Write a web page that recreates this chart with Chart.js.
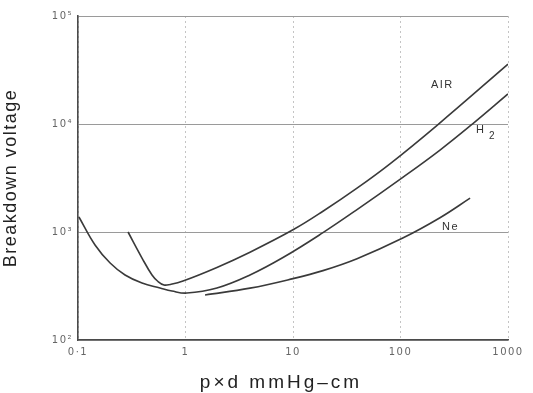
<!DOCTYPE html>
<html>
<head>
<meta charset="utf-8">
<script src="https://cdn.jsdelivr.net/npm/chart.js@4"></script>
<style>
  body { margin: 0; background: #fff; }
  #wrap { width: 533px; height: 393px; }
</style>
</head>
<body>
<div id="wrap"><canvas id="paschen"></canvas></div>
<script>
// values (pd in mmHg-cm, breakdown voltage in V)
var airX = [0.292, 0.394, 0.488, 0.555, 0.631, 0.718, 0.948, 1.96, 3.98, 10.2, 19.0, 39.4, 79.8, 219, 1000];
var airY = [1000, 574, 400, 348, 323, 327, 352, 470, 650, 1059, 1556, 2546, 4276, 9727, 35800];

var h2X = [0.102, 0.144, 0.199, 0.274, 0.394, 0.579, 0.748, 1.03, 1.96, 3.98, 8.07, 19.0, 39.4, 105, 233, 472, 1000];
var h2Y = [1377, 758, 516, 400, 337, 303, 284, 272, 303, 400, 580, 986, 1611, 3206, 5741, 10100, 19000];

var neX = [1.52, 3.98, 10, 19.0, 39.4, 105, 233, 444];
var neY = [261, 302, 370, 439, 566, 879, 1355, 2056];

var xTicks = [0.1, 1, 10, 100, 1000];
var xTickLabels = ["0·1", "1", "10", "100", "1000"];
var yTicks = [100, 1000, 10000, 100000];
var yTickLabels = ["10²", "10³", "10⁴", "10⁵"];

var curveNames = ["AIR", "H2", "Ne"];
var nameX = [243, 611, 308];
var nameY = [23000, 8430, 1110];

var xTitle = "p×d mmHg–cm";

function points(xs, ys) {
  var pts = [];
  for (var i = 0; i < xs.length; i++) pts.push({x: xs[i], y: ys[i]});
  return pts;
}

function curve(xs, ys) {
  return {
    data: points(xs, ys),
    showLine: true,
    borderColor: "#3a3a3a",
    borderWidth: 1.6,
    pointRadius: 0,
    tension: 0.4,
    fill: false
  };
}

var spacing = {
  id: "spacing",
  beforeDraw: function(chart) {
    chart.ctx.letterSpacing = "1.5px";
  }
};

var extraText = {
  id: "extraText",
  afterDraw: function(chart) {
    var ctx = chart.ctx;
    var xs = chart.scales.x, ys = chart.scales.y;
    ctx.save();
    ctx.fillStyle = "#333";
    ctx.textAlign = "left";
    ctx.textBaseline = "middle";
    ctx.letterSpacing = "1.5px";
    for (var i = 0; i < curveNames.length; i++) {
      var px = xs.getPixelForValue(nameX[i]);
      var py = ys.getPixelForValue(nameY[i]);
      var name = curveNames[i];
      if (name == "H2") {
        ctx.font = "11px 'Liberation Sans'";
        ctx.fillText("H", px - 9, py - 2);
        ctx.font = "10px 'Liberation Sans'";
        ctx.fillText("2", px + 4, py + 4);
      } else {
        ctx.font = "11px 'Liberation Sans'";
        ctx.fillText(name, px - 11, py);
      }
    }
    // x axis title, drawn here for its wide letter spacing
    ctx.fillStyle = "#222";
    ctx.textAlign = "center";
    ctx.font = "19px 'Liberation Sans'";
    ctx.letterSpacing = "3px";
    ctx.fillText(xTitle, xs.left + (xs.right - xs.left) / 2 - 12, 383);
    ctx.restore();
  }
};

new Chart("paschen", {
  type: "scatter",
  data: {
    datasets: [curve(airX, airY), curve(h2X, h2Y), curve(neX, neY)]
  },
  plugins: [spacing, extraText],
  options: {
    responsive: true,
    maintainAspectRatio: false,
    animation: false,
    layout: {padding: {left: 0, right: 25, top: 16, bottom: 0}},
    plugins: {legend: {display: false}, tooltip: {enabled: false}},
    scales: {
      x: {
        type: "logarithmic",
        min: 0.1,
        max: 1000,
        afterBuildTicks: function(axis) {
          axis.ticks = xTicks.map(function(v) { return {value: v}; });
        },
        afterFit: function(axis) { axis.height = 53; },
        ticks: {
          padding: 6,
          maxRotation: 0,
          autoSkip: false,
          color: "#666",
          font: {family: "'DejaVu Sans'", size: 10},
          callback: function(v) { return xTickLabels[xTicks.indexOf(v)]; }
        },
        grid: {color: "#c4c4c4", lineWidth: 1, drawTicks: false},
        border: {color: "#4a4a4a", width: 1.6, dash: [2, 3]}
      },
      y: {
        type: "logarithmic",
        min: 100,
        max: 100000,
        afterBuildTicks: function(axis) {
          axis.ticks = yTicks.map(function(v) { return {value: v}; });
        },
        afterFit: function(axis) { axis.width = 78; },
        ticks: {
          padding: 5,
          color: "#666",
          font: {family: "'DejaVu Sans'", size: 10},
          callback: function(v) { return yTickLabels[yTicks.indexOf(v)]; }
        },
        grid: {color: "#9a9a9a", lineWidth: 1, drawTicks: false},
        border: {color: "#4a4a4a", width: 1.6},
        title: {
          display: true,
          text: "Breakdown voltage",
          color: "#222",
          font: {family: "'Liberation Sans'", size: 18},
          padding: {top: 0, bottom: 0}
        }
      }
    }
  }
});
</script>
</body>
</html>
